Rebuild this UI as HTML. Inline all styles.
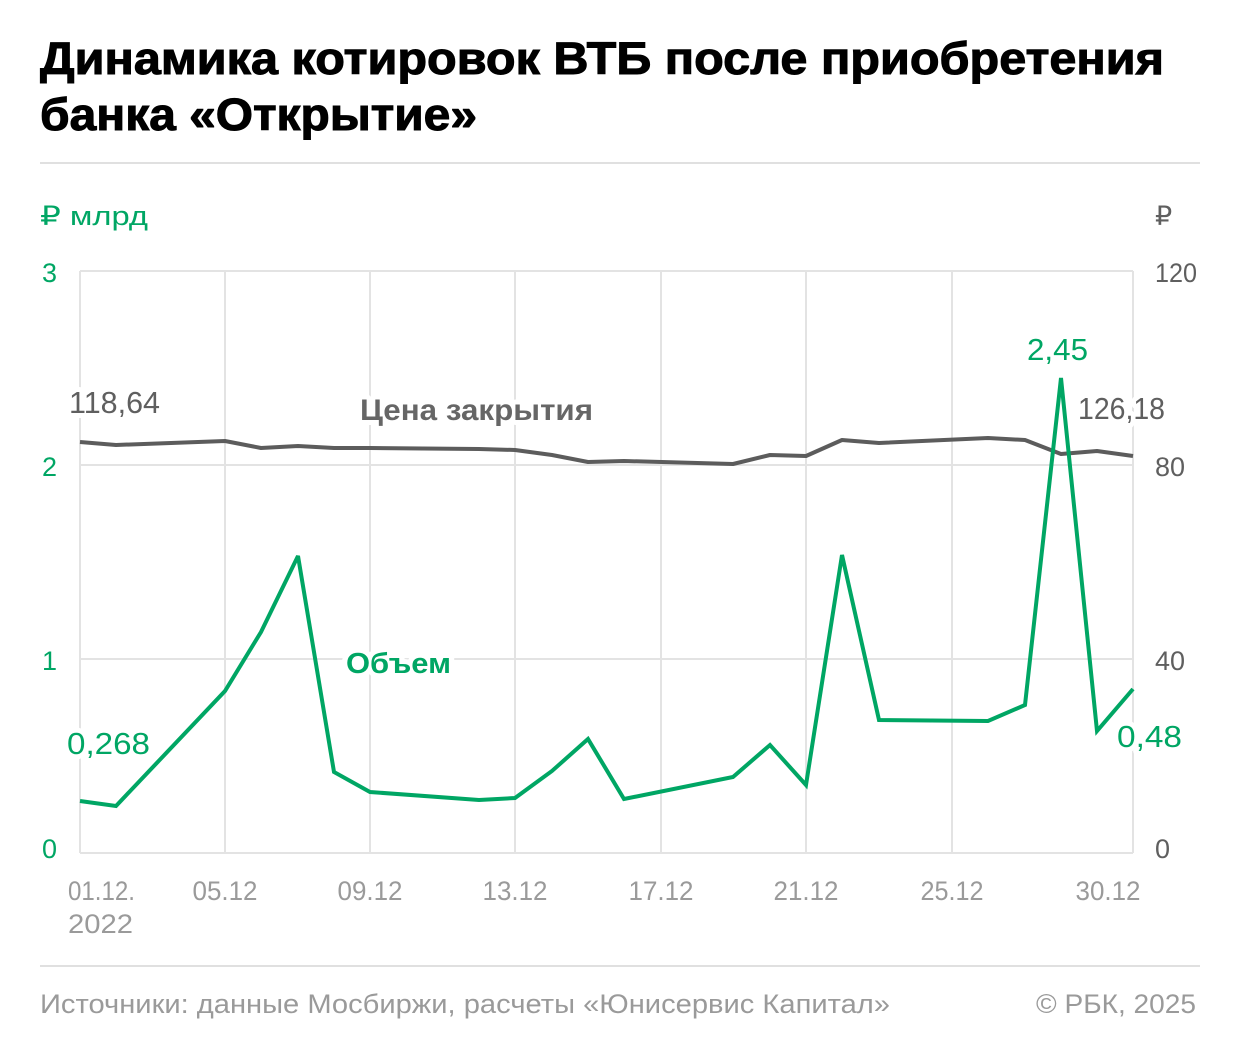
<!DOCTYPE html>
<html><head><meta charset="utf-8"><style>
html,body{margin:0;padding:0;background:#fff;}
svg{display:block;}
text{font-family:"Liberation Sans","DejaVu Sans",sans-serif;}
.halo{paint-order:stroke;stroke:#fff;stroke-width:10px;stroke-linejoin:round;}
</style></head><body>
<svg width="1240" height="1054" viewBox="0 0 1240 1054" xmlns="http://www.w3.org/2000/svg">
<rect width="1240" height="1054" fill="#fff"/>
<text x="40" y="74" font-size="45" font-weight="bold" fill="#000" stroke="#000" stroke-width="1" textLength="1124" lengthAdjust="spacingAndGlyphs">Динамика котировок ВТБ после приобретения</text>
<text x="40" y="130" font-size="45" font-weight="bold" fill="#000" stroke="#000" stroke-width="1" textLength="437" lengthAdjust="spacingAndGlyphs">банка «Открытие»</text>
<rect x="40" y="162" width="1160" height="2" fill="#e0e0e0"/>

<text x="40" y="225" font-size="27" fill="#00a664" textLength="108" lengthAdjust="spacingAndGlyphs">₽ млрд</text>
<text x="1155" y="225" font-size="27" fill="#5f5f5f">₽</text>

<g stroke="#e3e3e3" stroke-width="2" fill="none">
<line x1="80" y1="271" x2="1133" y2="271"/>
<line x1="80" y1="465" x2="1133" y2="465"/>
<line x1="80" y1="659" x2="1133" y2="659"/>
<line x1="80" y1="853" x2="1133" y2="853"/>
<line x1="80" y1="271" x2="80" y2="853"/>
<line x1="225" y1="271" x2="225" y2="853"/>
<line x1="370" y1="271" x2="370" y2="853"/>
<line x1="515" y1="271" x2="515" y2="853"/>
<line x1="661" y1="271" x2="661" y2="853"/>
<line x1="806" y1="271" x2="806" y2="853"/>
<line x1="952" y1="271" x2="952" y2="853"/>
<line x1="1133" y1="271" x2="1133" y2="853"/>
</g>

<g font-size="27" fill="#00a664">
<text x="42" y="282">3</text>
<text x="42" y="476">2</text>
<text x="42" y="670">1</text>
<text x="42" y="858">0</text>
</g>
<g font-size="27" fill="#5f5f5f">
<text x="1155" y="282" textLength="42" lengthAdjust="spacingAndGlyphs">120</text>
<text x="1155" y="476">80</text>
<text x="1155" y="670">40</text>
<text x="1155" y="858">0</text>
</g>

<g font-size="27" fill="#9a9a9a">
<text x="68" y="900" textLength="67" lengthAdjust="spacingAndGlyphs">01.12.</text>
<text x="68" y="933" textLength="65" lengthAdjust="spacingAndGlyphs">2022</text>
<text x="225" y="900" text-anchor="middle" textLength="65" lengthAdjust="spacingAndGlyphs">05.12</text>
<text x="370" y="900" text-anchor="middle" textLength="65" lengthAdjust="spacingAndGlyphs">09.12</text>
<text x="515" y="900" text-anchor="middle" textLength="65" lengthAdjust="spacingAndGlyphs">13.12</text>
<text x="661" y="900" text-anchor="middle" textLength="65" lengthAdjust="spacingAndGlyphs">17.12</text>
<text x="806" y="900" text-anchor="middle" textLength="65" lengthAdjust="spacingAndGlyphs">21.12</text>
<text x="952" y="900" text-anchor="middle" textLength="63" lengthAdjust="spacingAndGlyphs">25.12</text>
<text x="1108" y="900" text-anchor="middle" textLength="65" lengthAdjust="spacingAndGlyphs">30.12</text>
</g>

<g>
<text x="360" y="420" font-size="30" font-weight="bold" fill="#666" textLength="233" lengthAdjust="spacingAndGlyphs" class="halo">Цена закрытия</text>
<text x="346" y="673" font-size="29" font-weight="bold" fill="#00a664" textLength="105" lengthAdjust="spacingAndGlyphs" class="halo">Объем</text>
<text x="69" y="413" font-size="31" fill="#5f5f5f" textLength="91" lengthAdjust="spacingAndGlyphs" class="halo">118,64</text>
<text x="1078" y="419" font-size="31" fill="#5f5f5f" textLength="87" lengthAdjust="spacingAndGlyphs" class="halo">126,18</text>
<text x="67" y="754" font-size="31" fill="#00a664" textLength="83" lengthAdjust="spacingAndGlyphs" class="halo">0,268</text>
<text x="1027" y="360" font-size="31" fill="#00a664" textLength="61" lengthAdjust="spacingAndGlyphs" class="halo">2,45</text>
<text x="1117" y="747" font-size="31" fill="#00a664" textLength="65" lengthAdjust="spacingAndGlyphs" class="halo">0,48</text>
</g>

<polyline fill="none" stroke="#5c5c5c" stroke-width="4" stroke-linejoin="round" points="80,442 116,445 225,441 261,448 298,446 334,448 370,448 479,449 515,450 552,455 588,462 624,461 733,464 770,455 806,456 842,440 879,443 988,438 1025,440 1061,454 1097,451 1133,456"/>
<polyline fill="none" stroke="#00a664" stroke-width="4" stroke-linejoin="miter" stroke-miterlimit="3" points="80,801 116,806 225,691 261,632 298,556 334,772 370,792 479,800 515,798 552,771 588,739 624,799 733,777 770,745 806,785 842,555 879,720 988,721 1025,705 1061,378 1097,731 1133,689"/>

<rect x="40" y="965" width="1160" height="2" fill="#e0e0e0"/>
<text x="40" y="1013" font-size="27" fill="#9a9a9a" textLength="850" lengthAdjust="spacingAndGlyphs">Источники: данные Мосбиржи, расчеты «Юнисервис Капитал»</text>
<text x="1196" y="1013" font-size="27" fill="#9a9a9a" text-anchor="end" textLength="160" lengthAdjust="spacingAndGlyphs">© РБК, 2025</text>
</svg>
</body></html>
